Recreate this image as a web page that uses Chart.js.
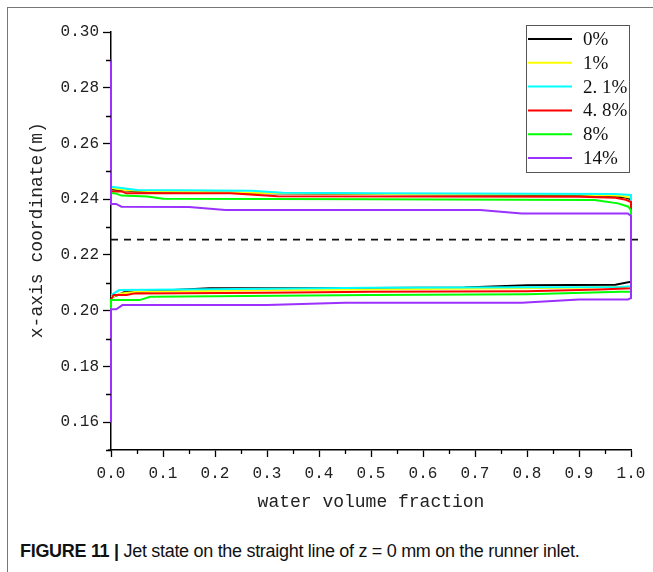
<!DOCTYPE html>
<html>
<head>
<meta charset="utf-8">
<script src="https://cdn.jsdelivr.net/npm/chart.js@4.4.0/dist/chart.umd.min.js"></script>
<style>
  body { margin: 0; background: #fff; width: 653px; height: 572px; overflow: hidden; position: relative; }
  #frame { position: absolute; left: 7px; top: 7px; width: 700px; height: 600px;
    border-left: 1.5px solid #777; border-top: 1.5px solid #777; }
  #chart { position: absolute; left: 0; top: 0; }
  #caption { position: absolute; left: 20px; top: 541px; font-family: "Liberation Sans", Arial, sans-serif;
    font-size: 18px; letter-spacing: -0.3px; color: #111; white-space: nowrap; }
  #caption b { font-weight: bold; }
</style>
</head>
<body>
<div id="frame"></div>
<canvas id="chart" width="653" height="520"></canvas>
<div id="caption"><b>FIGURE 11 |</b> Jet state on the straight line of z = 0 mm on the runner inlet.</div>
<script>
// Series names (legend) and colours
var seriesNames = ["0%", "1%", "2. 1%", "4. 8%", "8%", "14%"];
var seriesColors = ["#000000", "#ffff00", "#00ffff", "#ff0000", "#00ff00", "#9b30ff"];

// Each series: [water volume fraction, x-axis coordinate (m)]
// lower edge left -> right, then upper edge right -> left
var path0 = [
  [0, 0.2048], [0.012, 0.2055], [0.025, 0.2066], [0.06, 0.2068], [0.1, 0.2072], [0.19, 0.2080],
  [0.3, 0.2080], [0.5, 0.2081], [0.68, 0.2083], [0.8, 0.2091], [0.97, 0.2093], [1, 0.2104],
  [1, 0.2400], [0.99, 0.2406], [0.95, 0.2412], [0.82, 0.2415], [0.72, 0.2416], [0.5, 0.2419],
  [0.3, 0.2421], [0.23, 0.2423], [0.17, 0.2425], [0.05, 0.2428], [0, 0.2436]
];
var path1 = [
  [0, 0.2048], [0.02, 0.2062], [0.05, 0.2068], [0.3, 0.2073], [0.6, 0.2078], [0.9, 0.2082], [1, 0.2086],
  [1, 0.2405], [0.98, 0.2412], [0.9, 0.2417], [0.6, 0.2418], [0.3, 0.2422], [0.1, 0.2428],
  [0.03, 0.2432], [0, 0.2440]
];
var path2_1 = [
  [0, 0.2056], [0.016, 0.2074], [0.3, 0.2079], [0.5, 0.2082], [0.8, 0.2084], [0.98, 0.2085], [1, 0.2088],
  [1, 0.2415], [0.97, 0.2419], [0.5, 0.2421], [0.33, 0.2423], [0.27, 0.2430], [0.05, 0.2433],
  [0.02, 0.2440], [0, 0.2445]
];
var path4_8 = [
  [0, 0.2040], [0.005, 0.2056], [0.03, 0.2056], [0.045, 0.2062], [0.3, 0.2064], [0.5, 0.2068],
  [0.8, 0.2070], [0.94, 0.2076], [1, 0.2080],
  [1, 0.2390], [0.99, 0.2398], [0.97, 0.2405], [0.9, 0.2409], [0.32, 0.2411], [0.23, 0.2421],
  [0.03, 0.2421], [0.02, 0.2428], [0, 0.2428]
];
var path8 = [
  [0, 0.2000], [0, 0.2038], [0.055, 0.2038], [0.075, 0.2050], [0.5, 0.2056], [0.8, 0.2059],
  [0.98, 0.2068], [1, 0.2068],
  [1, 0.2360], [0.995, 0.2373], [0.975, 0.2385], [0.93, 0.2397], [0.5, 0.2400], [0.1, 0.2402],
  [0.07, 0.2410], [0.02, 0.2413], [0.01, 0.2420], [0, 0.2422]
];
var path14 = [
  [0, 0.1600], [0, 0.2005], [0.01, 0.2005], [0.022, 0.2020], [0.3, 0.2020], [0.45, 0.2028],
  [0.79, 0.2028], [0.9, 0.2040], [0.994, 0.2040], [1, 0.2045],
  [1, 0.2340], [0.994, 0.2349], [0.79, 0.2349], [0.71, 0.2361], [0.22, 0.2361], [0.15, 0.2372],
  [0.02, 0.2373], [0.01, 0.2383], [0, 0.2383], [0, 0.2902]
];
var seriesPaths = [path0, path1, path2_1, path4_8, path8, path14];

// Dashed centre line
var centreLineY = 0.2255;
var centreLineX = [0, 1.023];

// Ticks
var xTickValues = [0, 0.1, 0.2, 0.3, 0.4, 0.5, 0.6, 0.7, 0.8, 0.9, 1.0];
var xTickLabels = ["0.0", "0.1", "0.2", "0.3", "0.4", "0.5", "0.6", "0.7", "0.8", "0.9", "1.0"];
var xMinorTicks = [0.05, 0.15, 0.25, 0.35, 0.45, 0.55, 0.65, 0.75, 0.85, 0.95];
var yTickValues = [0.16, 0.18, 0.20, 0.22, 0.24, 0.26, 0.28, 0.30];
var yTickLabels = ["0.16", "0.18", "0.20", "0.22", "0.24", "0.26", "0.28", "0.30"];
var yMinorTicks = [0.15, 0.17, 0.19, 0.21, 0.23, 0.25, 0.27, 0.29];

var tickFont = { family: "'Liberation Mono', 'DejaVu Sans Mono', monospace", size: 16 };
var titleFont = { family: "'Liberation Mono', 'DejaVu Sans Mono', monospace", size: 18 };

// datasets
var datasets = seriesPaths.map(function (path, i) {
  return {
    label: seriesNames[i],
    data: path.map(function (p) { return { x: p[0], y: p[1] }; }),
    showLine: true,
    borderColor: seriesColors[i],
    backgroundColor: seriesColors[i],
    borderWidth: 2,
    pointRadius: 0,
    tension: 0,
    clip: 4,
    order: -i
  };
});
datasets.push({
  label: "centre",
  data: centreLineX.map(function (x) { return { x: x, y: centreLineY }; }),
  showLine: true,
  borderColor: "#111",
  borderWidth: 1.6,
  borderDash: [7, 6],
  pointRadius: 0,
  clip: false,
  order: 5
});

// minor ticks + little axis overhang
var minorTicks = {
  id: "minorTicks",
  afterDraw: function (chart) {
    var ctx = chart.ctx, xs = chart.scales.x, ys = chart.scales.y, a = chart.chartArea;
    ctx.save();
    ctx.strokeStyle = "#000";
    ctx.lineWidth = 1.3;
    ctx.beginPath();
    xMinorTicks.forEach(function (v) {
      var px = Math.round(xs.getPixelForValue(v)) + 0.5;
      ctx.moveTo(px, a.bottom); ctx.lineTo(px, a.bottom + 4);
    });
    yMinorTicks.forEach(function (v) {
      var py = Math.round(ys.getPixelForValue(v)) + 0.5;
      ctx.moveTo(a.left - 5, py); ctx.lineTo(a.left, py);
    });
    ctx.moveTo(a.left - 3, a.bottom); ctx.lineTo(a.left, a.bottom);
    ctx.stroke();
    ctx.restore();
  }
};

// legend box inside plot
var legendBox = {
  id: "legendBox",
  afterDraw: function (chart) {
    var ctx = chart.ctx;
    var bx = 526, by = 25, bw = 103, bh = 147;
    ctx.save();
    ctx.fillStyle = "#fff";
    ctx.fillRect(bx, by, bw, bh);
    ctx.strokeStyle = "#555";
    ctx.lineWidth = 1;
    ctx.strokeRect(bx + 0.5, by + 0.5, bw, bh);
    ctx.font = "19px 'Liberation Serif', 'DejaVu Serif', serif";
    ctx.textBaseline = "middle";
    ctx.fillStyle = "#111";
    for (var i = 0; i < seriesNames.length; i++) {
      var y = 39 + i * 23.8;
      ctx.strokeStyle = seriesColors[i];
      ctx.lineWidth = 2;
      ctx.beginPath();
      ctx.moveTo(528, y); ctx.lineTo(572, y);
      ctx.stroke();
      ctx.fillText(seriesNames[i], 583, y + 1);
    }
    ctx.restore();
  }
};

var myChart = new Chart(document.getElementById("chart").getContext("2d"), {
  type: "scatter",
  data: { datasets: datasets },
  options: {
    responsive: false,
    animation: false,
    layout: { padding: { left: 0, top: 32, right: 22, bottom: 0 } },
    plugins: { legend: { display: false }, tooltip: { enabled: false } },
    scales: {
      x: {
        type: "linear",
        min: 0,
        max: 1,
        afterBuildTicks: function (s) { s.ticks = xTickValues.map(function (v) { return { value: v }; }); },
        afterFit: function (s) { s.height = 70; },
        ticks: {
          callback: function (v, i) { return xTickLabels[i]; },
          font: tickFont, color: "#222", padding: 7, maxRotation: 0, autoSkip: false
        },
        grid: { display: true, drawOnChartArea: false, tickLength: 7, tickColor: "#000", tickWidth: 1.3 },
        border: { color: "#000", width: 1.5 },
        title: { display: true, text: "water volume fraction", font: titleFont, color: "#222",
          padding: { top: 0, bottom: 7 } }
      },
      y: {
        type: "linear",
        min: 0.15,
        max: 0.30,
        afterBuildTicks: function (s) { s.ticks = yTickValues.map(function (v) { return { value: v }; }); },
        afterFit: function (s) { s.width = 111; },
        ticks: {
          callback: function (v, i) { return yTickLabels[i]; },
          font: tickFont, color: "#222", padding: 4, autoSkip: false
        },
        grid: { display: true, drawOnChartArea: false, tickLength: 8, tickColor: "#000", tickWidth: 1.3 },
        border: { color: "#000", width: 1.5 },
        title: { display: true, text: "\u00a0\u00a0x-axis coordinate(m)", font: titleFont, color: "#222",
          padding: { top: 26, bottom: 0 } }
      }
    }
  },
  plugins: [minorTicks, legendBox]
});
</script>
</body>
</html>
